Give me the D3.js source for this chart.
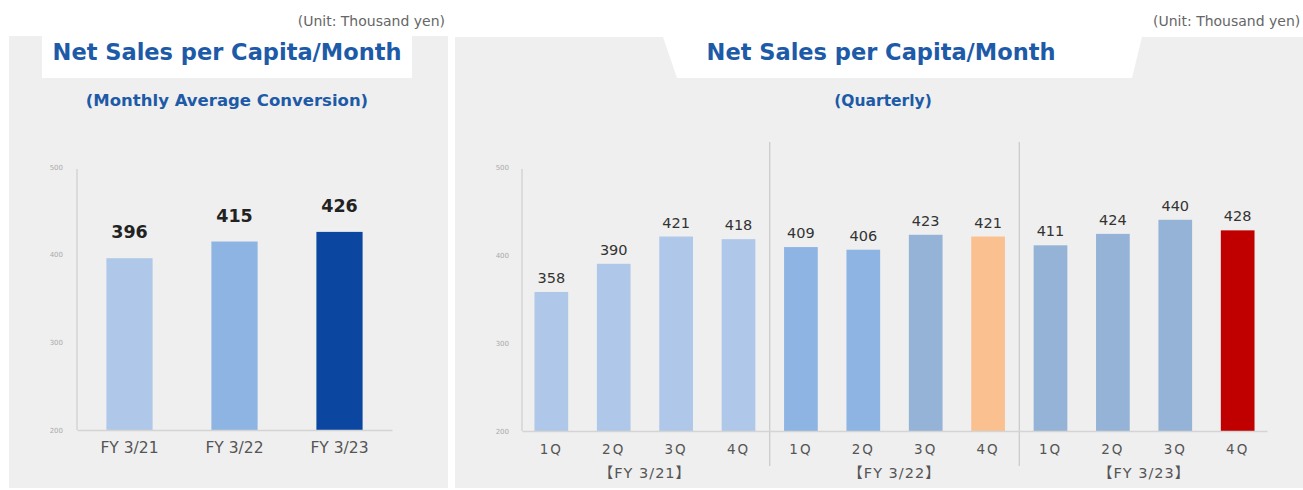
<!DOCTYPE html>
<html>
<head>
<meta charset="utf-8">
<script src="https://cdn.jsdelivr.net/npm/d3@7"></script>
<style>
html,body{margin:0;padding:0;background:#fff;}
svg{display:block;}
</style>
</head>
<body>
<svg id="chart" width="1303" height="490"></svg>
<script>
// ---- data ----
const annualCategories = ["FY 3/21", "FY 3/22", "FY 3/23"];
const annualValues = [396, 415, 426];
const annualColors = ["#afc8e9", "#8db4e2", "#0b47a1"];

const quarterLabels = ["1Q","2Q","3Q","4Q","1Q","2Q","3Q","4Q","1Q","2Q","3Q","4Q"];
const quarterGroups = ["FY 3/21","FY 3/21","FY 3/21","FY 3/21","FY 3/22","FY 3/22","FY 3/22","FY 3/22","FY 3/23","FY 3/23","FY 3/23","FY 3/23"];
const quarterValues = [358, 390, 421, 418, 409, 406, 423, 421, 411, 424, 440, 428];
const quarterColors = ["#afc8e9","#afc8e9","#afc8e9","#afc8e9","#8db4e2","#8db4e2","#95b3d7","#fac090","#95b3d7","#95b3d7","#95b3d7","#c00000"];
const fyGroupLabels = ["FY 3/21", "FY 3/22", "FY 3/23"];

const yTicks = [200, 300, 400, 500];
const yDomain = [200, 500];

const titleText = "Net Sales per Capita/Month";
const leftSubtitle = "(Monthly Average Conversion)";
const rightSubtitle = "(Quarterly)";
const unitText = "(Unit: Thousand yen)";

// ---- drawing ----
const svg = d3.select("#chart");
const titleColor = "#1d5aa7";
const fontMain = "'DejaVu Sans', Verdana, sans-serif";

// panels
svg.append("rect").attr("x", 9).attr("y", 36).attr("width", 439).attr("height", 452).attr("fill", "#efefef");
svg.append("rect").attr("x", 455).attr("y", 37).attr("width", 848).attr("height", 451).attr("fill", "#efefef");

// title white boxes
svg.append("rect").attr("x", 42).attr("y", 36).attr("width", 370).attr("height", 42).attr("fill", "#ffffff");
svg.append("path").attr("d", "M663,37 L1142,37 L1132,78 L677,78 Z").attr("fill", "#ffffff");

// unit texts
svg.append("text").attr("x", 445).attr("y", 26).attr("text-anchor", "end")
  .attr("font-family", fontMain).attr("font-size", 14).attr("fill", "#666").text(unitText);
svg.append("text").attr("x", 1153).attr("y", 26).attr("text-anchor", "start")
  .attr("font-family", fontMain).attr("font-size", 14).attr("fill", "#666").text(unitText);

// titles
svg.append("text").attr("x", 227).attr("y", 60).attr("text-anchor", "middle")
  .attr("font-family", fontMain).attr("font-weight", "bold").attr("font-size", 22.5).attr("fill", titleColor).text(titleText);
svg.append("text").attr("x", 227).attr("y", 106).attr("text-anchor", "middle")
  .attr("font-family", fontMain).attr("font-weight", "bold").attr("font-size", 16.5).attr("fill", titleColor).text(leftSubtitle);
svg.append("text").attr("x", 881).attr("y", 60).attr("text-anchor", "middle")
  .attr("font-family", fontMain).attr("font-weight", "bold").attr("font-size", 22.5).attr("fill", titleColor).text(titleText);
svg.append("text").attr("x", 883).attr("y", 106).attr("text-anchor", "middle")
  .attr("font-family", fontMain).attr("font-weight", "bold").attr("font-size", 15.5).attr("fill", titleColor).text(rightSubtitle);

// ---------- left chart ----------
const yL = d3.scaleLinear().domain(yDomain).range([430, 167]);
const xL = d3.scaleBand().domain(annualCategories).range([77, 392]).paddingInner(0.56).paddingOuter(0.28);

const gL = svg.append("g");
gL.append("line").attr("x1", 77).attr("x2", 77).attr("y1", yL(500) + 2).attr("y2", yL(200)).attr("stroke", "#d4d4d4").attr("stroke-width", 1.5);
const yAxisL = d3.axisLeft(yL).tickValues(yTicks).tickSize(0).tickPadding(14);
gL.append("g").attr("transform", "translate(77,0)").call(yAxisL)
  .call(g => g.select(".domain").remove())
  .call(g => g.selectAll("text").attr("font-family", fontMain).attr("font-size", 7).attr("fill", "#aaa"));

gL.selectAll("rect.bar").data(annualValues).join("rect").attr("class", "bar")
  .attr("x", (d, i) => xL(annualCategories[i])).attr("width", xL.bandwidth())
  .attr("y", d => yL(d)).attr("height", d => yL(200) - yL(d))
  .attr("fill", (d, i) => annualColors[i]);

const xAxisL = d3.axisBottom(xL).tickSize(0).tickPadding(12);
gL.append("g").attr("transform", `translate(0,${yL(200)})`).call(xAxisL)
  .call(g => g.select(".domain").attr("stroke", "#d4d4d4").attr("stroke-width", 1.5))
  .call(g => g.selectAll("text").attr("font-family", fontMain).attr("font-size", 15.5).attr("fill", "#555"));

gL.selectAll("text.val").data(annualValues).join("text").attr("class", "val")
  .attr("x", (d, i) => xL(annualCategories[i]) + xL.bandwidth() / 2)
  .attr("y", d => yL(d) - 20).attr("text-anchor", "middle")
  .attr("font-family", fontMain).attr("font-weight", "bold").attr("font-size", 17.5).attr("fill", "#222")
  .text(d => d);

// ---------- right chart ----------
const yR = d3.scaleLinear().domain(yDomain).range([431, 167]);
const qIdx = quarterValues.map((d, i) => i);
const xR = d3.scaleBand().domain(qIdx).range([522, 1267]).paddingInner(0.46).paddingOuter(0.2);

const gR = svg.append("g");
gR.append("line").attr("x1", 522).attr("x2", 522).attr("y1", yR(500) + 2).attr("y2", yR(200)).attr("stroke", "#d4d4d4").attr("stroke-width", 1.5);
const yAxisR = d3.axisLeft(yR).tickValues(yTicks).tickSize(0).tickPadding(13);
gR.append("g").attr("transform", "translate(522,0)").call(yAxisR)
  .call(g => g.select(".domain").remove())
  .call(g => g.selectAll("text").attr("font-family", fontMain).attr("font-size", 7).attr("fill", "#aaa"));

// group separators
const step = xR.step();
[4, 8].forEach(k => {
  const xs = xR(k) - step * xR.paddingInner() / 2;
  gR.append("line").attr("x1", xs).attr("x2", xs).attr("y1", 142).attr("y2", 466)
    .attr("stroke", "#c8c8c8").attr("stroke-width", 1.2);
});

gR.selectAll("rect.bar").data(quarterValues).join("rect").attr("class", "bar")
  .attr("x", (d, i) => xR(i)).attr("width", xR.bandwidth())
  .attr("y", d => yR(d)).attr("height", d => yR(200) - yR(d))
  .attr("fill", (d, i) => quarterColors[i]);

const xAxisR = d3.axisBottom(xR).tickSize(0).tickPadding(13).tickFormat(i => quarterLabels[i]);
gR.append("g").attr("transform", `translate(0,${yR(200)})`).call(xAxisR)
  .call(g => g.select(".domain").attr("stroke", "#d4d4d4").attr("stroke-width", 1.5))
  .call(g => g.selectAll("text").attr("font-family", fontMain).attr("font-size", 13.5).attr("fill", "#555").attr("letter-spacing", 2));

// group labels
fyGroupLabels.forEach((fy, k) => {
  const idx = quarterGroups.map((g, i) => g === fy ? i : -1).filter(i => i >= 0);
  const cx = (xR(idx[0]) + xR(idx[idx.length - 1]) + xR.bandwidth()) / 2;
  gR.append("text").attr("x", cx).attr("y", 478).attr("text-anchor", "middle")
    .attr("font-family", "'DejaVu Sans', 'Noto Sans CJK JP', sans-serif").attr("font-size", 14.5).attr("fill", "#555")
    .attr("letter-spacing", 1)
    .text("【" + fy + "】");
});

gR.selectAll("text.val").data(quarterValues).join("text").attr("class", "val")
  .attr("x", (d, i) => xR(i) + xR.bandwidth() / 2)
  .attr("y", d => yR(d) - 9).attr("text-anchor", "middle")
  .attr("font-family", fontMain).attr("font-size", 14.5).attr("fill", "#333")
  .text(d => d);
</script>
</body>
</html>
